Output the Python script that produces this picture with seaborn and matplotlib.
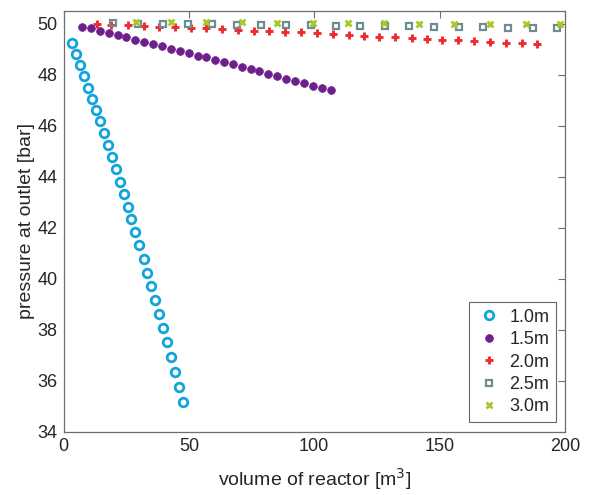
import matplotlib
matplotlib.use("Agg")
import matplotlib.pyplot as plt
import seaborn as sns
import pandas as pd

# Reactor volume [m^3] and outlet pressure [bar] for each reactor diameter
vol_10 = [3.4, 5.1, 6.7, 8.2, 9.9, 11.4, 13.0, 14.6, 16.0, 17.6, 19.2, 20.8, 22.4, 24.0,
          25.6, 27.0, 28.6, 30.2, 32.0, 33.4, 34.9, 36.5, 38.1, 39.7, 41.3, 42.9, 44.5,
          46.1, 47.5]
p_10 = [49.24, 48.82, 48.39, 47.94, 47.50, 47.07, 46.61, 46.17, 45.71, 45.25, 44.76,
        44.29, 43.81, 43.31, 42.83, 42.33, 41.82, 41.31, 40.79, 40.25, 39.73, 39.18,
        38.63, 38.08, 37.52, 36.94, 36.37, 35.78, 35.17]

vol_15 = [7.4, 11.1, 14.6, 18.1, 21.7, 25.0, 28.6, 32.2, 35.8, 39.3, 42.8, 46.4, 49.9,
          53.5, 56.9, 60.3, 64.0, 67.5, 71.2, 74.6, 78.1, 81.6, 85.1, 88.8, 92.3, 96.0,
          99.5, 102.9, 106.5]
p_15 = [49.89, 49.82, 49.71, 49.65, 49.54, 49.47, 49.38, 49.28, 49.22, 49.11, 49.02,
        48.95, 48.85, 48.74, 48.68, 48.57, 48.49, 48.41, 48.31, 48.22, 48.13, 48.05,
        47.94, 47.85, 47.77, 47.68, 47.58, 47.49, 47.42]

vol_20 = [13.2, 18.9, 25.7, 32.1, 38.2, 44.5, 50.7, 56.9, 63.3, 69.6, 75.9, 82.0, 88.4,
          94.6, 101.2, 107.3, 113.7, 119.8, 125.9, 132.4, 139.0, 144.9, 150.9, 157.2,
          163.7, 170.2, 176.6, 183.0, 188.9]
p_20 = [50.00, 49.97, 49.95, 49.91, 49.88, 49.87, 49.85, 49.82, 49.79, 49.76, 49.73,
        49.70, 49.68, 49.66, 49.63, 49.60, 49.57, 49.52, 49.49, 49.47, 49.43, 49.41,
        49.38, 49.36, 49.32, 49.29, 49.26, 49.24, 49.22]

vol_25 = [19.9, 29.8, 39.7, 49.5, 59.3, 69.2, 78.9, 88.9, 98.8, 108.7, 118.2, 128.1,
          137.7, 147.6, 157.6, 167.3, 177.2, 187.1, 197.0]
p_25 = [50.03, 50.01, 50.01, 50.00, 49.98, 49.97, 49.96, 49.95, 49.94, 49.93, 49.92,
        49.91, 49.90, 49.88, 49.87, 49.86, 49.85, 49.84, 49.83]

vol_30 = [28.9, 42.7, 56.8, 71.3, 85.1, 99.4, 113.6, 127.8, 141.9, 155.9, 170.1, 184.4,
          198.2]
p_30 = [50.06, 50.06, 50.05, 50.05, 50.03, 50.02, 50.02, 50.02, 50.01, 50.01, 50.00,
        49.99, 49.98]

labels = ["1.0m", "1.5m", "2.0m", "2.5m", "3.0m"]
x_ticks = [0, 50, 100, 150, 200]
y_ticks = [34, 36, 38, 40, 42, 44, 46, 48, 50]

series = [(vol_10, p_10), (vol_15, p_15), (vol_20, p_20), (vol_25, p_25), (vol_30, p_30)]
frames = []
for lab, (v, p) in zip(labels, series):
    frames.append(pd.DataFrame({"volume": v, "pressure": p, "diameter": lab}))
df = pd.concat(frames, ignore_index=True)

sns.set_style("white")
plt.rcParams["font.family"] = ["Liberation Sans", "DejaVu Sans"]

styles = {
    "1.0m": dict(marker="o", color="#12a5dc", mfc="none", ms=6.2, mew=2.0),
    "1.5m": dict(marker="o", color="#6e1f8c", mfc="#6e1f8c", ms=5.6, mew=0.5),
    "2.0m": dict(marker="+", color="#ee2b2f", mfc="none", ms=6.3, mew=2.1),
    "2.5m": dict(marker="s", color="#6f8c92", mfc="none", ms=5.0, mew=1.6),
    "3.0m": dict(marker="x", color="#a8c82c", mfc="none", ms=4.4, mew=2.0),
}

fig = plt.figure(figsize=(5.9, 4.95), dpi=100)
ax = fig.add_axes([63.5 / 590, 1 - 432 / 495, (565 - 63.5) / 590, (432 - 11) / 495])

for lab in labels:
    st = styles[lab]
    sub = df[df["diameter"] == lab]
    sns.lineplot(data=sub, x="volume", y="pressure", ax=ax, sort=False,
                 linestyle="", marker=st["marker"], color=st["color"],
                 markerfacecolor=st["mfc"], markeredgecolor=st["color"],
                 markersize=st["ms"], markeredgewidth=st["mew"], label=lab)

ax.set_xlim(0, 200)
ax.set_ylim(34, 50.5)
ax.set_xticks(x_ticks)
ax.set_yticks(y_ticks)

text_color = "#262626"
ax.tick_params(axis="both", which="both", direction="in", length=5, width=0.8,
               color="#6e6e6e", labelsize=13, labelcolor=text_color,
               top=True, right=True, pad=4.5)
for sp in ax.spines.values():
    sp.set_visible(True)
    sp.set_color("#6e6e6e")
    sp.set_linewidth(0.9)

ax.set_xlabel("volume of reactor [m$^3$]", fontsize=14, color=text_color, labelpad=8)
ax.set_ylabel("pressure at outlet [bar]", fontsize=14, color=text_color, labelpad=1.5)

leg = ax.legend(loc="lower right", bbox_to_anchor=(0.9815, 0.0245), borderaxespad=0,
                fontsize=13, frameon=True, fancybox=False, handlelength=1.5,
                handletextpad=0.4, labelspacing=0.3, borderpad=0.35)
leg.get_frame().set_edgecolor("#404040")
leg.get_frame().set_linewidth(0.8)
for t in leg.get_texts():
    t.set_color(text_color)

fig.savefig("out.png", dpi=100)
